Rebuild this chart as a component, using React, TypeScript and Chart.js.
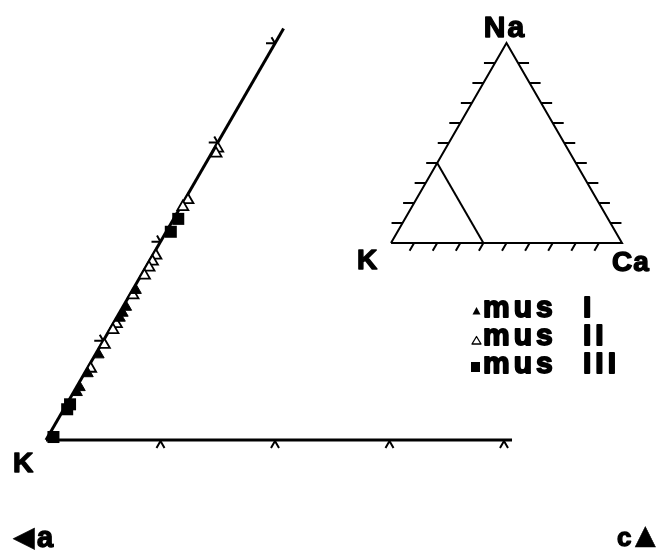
import React, { useEffect, useRef } from "react";
import { Chart, registerables } from "chart.js";

Chart.register(...registerables);

// Interlayer composition of muscovite (mol %): Na and Ca, K is the balance.
const musI_Na = [15.1, 13.4, 12.8, 12.3, 8.6, 6.7, 5.3, 4.8];
const musI_Ca = [0.3, 0.3, 0.3, 0.3, 0.3, 0.3, 0.3, 0.3];

const musII_Na = [29.4, 28.9, 24.2, 23.5, 18.6, 18.0, 17.4, 16.6, 14.6, 11.7, 11.1, 9.6, 7.2];
const musII_Ca = [0.3, 0.4, 0.3, 0.2, 0.3, 0.3, 0.3, 0.3, 0.3, 0.3, 0.3, 0.3, 0.3];

const musIII_Na = [22.3, 21.0, 3.6, 3.1, 0.3];
const musIII_Ca = [0.4, 0.4, 0.3, 0.3, 0.5];

// Axis extents and tick marks of the enlarged K corner (%)
const naAxisEnd = 41.5;
const caAxisEnd = 40.7;
const cornerTicks = [10, 20, 30, 40];

// Full ternary key: tick marks every 10 %, enlarged window 40 %
const keyTicks = [10, 20, 30, 40, 50, 60, 70, 80, 90];
const keyWindow = 40;

const legendNames = ["mus I", "mus II", "mus III"];

// Layout: pixels per % in the corner plot, its K origin, and the key triangle
const PX = 11.45;
const ORIGIN = { x: 46, y: 440 };
const KEY_ORIGIN = { x: 391, y: 243 };
const KEY_SIDE = 231;

const W = 672;
const H = 555;
const H3 = Math.sqrt(3) / 2;

const tern = (na: number, ca: number) => ({ x: ca + na / 2, y: na * H3 });

const keyK = KEY_SIDE / 100 / PX;
const keyO = { x: (KEY_ORIGIN.x - ORIGIN.x) / PX, y: (ORIGIN.y - KEY_ORIGIN.y) / PX };
const keyTern = (na: number, ca: number) => ({
  x: keyO.x + keyK * (ca + na / 2),
  y: keyO.y + keyK * na * H3,
});

const FONT = '"Liberation Sans", Arial, Helvetica, sans-serif';

export default function App() {
  const ref = useRef<HTMLCanvasElement | null>(null);

  useEffect(() => {
    if (!ref.current) return;

    const toPts = (na: number[], ca: number[]) => na.map((v, i) => tern(v, ca[i]));

    const tickPlugin = {
      id: "ternaryTicks",
      beforeDatasetsDraw(chart: any) {
        const { ctx } = chart;
        const sx = chart.scales.x;
        const sy = chart.scales.y;
        const px = (p: { x: number; y: number }) => ({ x: sx.getPixelForValue(p.x), y: sy.getPixelForValue(p.y) });
        const stroke = (p: { x: number; y: number }, deg: number, len: number) => {
          const a = (deg * Math.PI) / 180;
          ctx.moveTo(p.x, p.y);
          ctx.lineTo(p.x + len * Math.cos(a), p.y - len * Math.sin(a));
        };
        ctx.save();
        ctx.strokeStyle = "#000";
        ctx.lineWidth = 2;
        ctx.lineCap = "butt";
        ctx.beginPath();
        cornerTicks.forEach((t) => {
          const pn = px(tern(t, 0));
          stroke(pn, 120, 7);
          stroke(pn, 180, 9);
          const pc = px(tern(0, t));
          stroke({ x: pc.x, y: pc.y + 1 }, 240, 8);
          stroke({ x: pc.x, y: pc.y + 1 }, 300, 8);
        });
        keyTicks.forEach((t) => {
          stroke(px(keyTern(t, 0)), 180, 11);
          stroke(px(keyTern(t, 100 - t)), 0, 11);
          stroke(px(keyTern(0, t)), 240, 9);
        });
        ctx.stroke();
        ctx.restore();
      },
      afterDraw(chart: any) {
        const { ctx } = chart;
        ctx.save();
        ctx.fillStyle = "#000";
        ctx.strokeStyle = "#000";
        ctx.lineJoin = "round";
        ctx.textBaseline = "alphabetic";
        const text = (
          s: string,
          x: number,
          y: number,
          size: number,
          spacing = 0,
          align: CanvasTextAlign = "left",
          weight = 1.4
        ) => {
          ctx.font = `bold ${size}px ${FONT}`;
          (ctx as any).letterSpacing = `${spacing}px`;
          ctx.textAlign = align;
          ctx.fillText(s, x, y);
          ctx.lineWidth = weight;
          ctx.strokeText(s, x, y);
        };
        // key labels
        text("Na", 505, 37, 30, 2, "center");
        text("K", 357, 269, 28);
        text("Ca", 612, 271, 28, 1);
        // corner plot label
        text("K", 13, 472, 28);
        // legend
        const rows = [317, 345, 373];
        rows.forEach((y, i) => {
          (ctx as any).wordSpacing = "14px";
          text(legendNames[i], 483, y, 30, 4, "left", 1.8);
          (ctx as any).wordSpacing = "0px";
        });
        // legend markers
        ctx.lineWidth = 1.3;
        ctx.beginPath();
        ctx.moveTo(476.5, 307);
        ctx.lineTo(480.5, 314.5);
        ctx.lineTo(472.5, 314.5);
        ctx.closePath();
        ctx.fill();
        ctx.beginPath();
        ctx.moveTo(476.5, 336.5);
        ctx.lineTo(481, 344);
        ctx.lineTo(472, 344);
        ctx.closePath();
        ctx.stroke();
        ctx.fillRect(471, 362, 9, 10);
        // bottom direction labels
        text("◄", 6, 549, 36, 0, "left", 0.5);
        text("a", 37, 547, 29);
        text("c", 617, 546, 26);
        text("▲", 628, 547, 35, 0, "left", 0.5);
        ctx.restore();
      },
    };

    const chart = new Chart(ref.current, {
      type: "scatter",
      data: {
        datasets: [
          {
            label: legendNames[2],
            data: toPts(musIII_Na, musIII_Ca),
            pointStyle: "rect",
            pointRadius: 8.5,
            backgroundColor: "#000",
            borderColor: "#000",
            borderWidth: 0,
          },
          {
            label: legendNames[0],
            data: toPts(musI_Na, musI_Ca),
            pointStyle: "triangle",
            pointRadius: 6.3,
            backgroundColor: "#000",
            borderColor: "#000",
            borderWidth: 1,
          },
          {
            label: legendNames[1],
            data: toPts(musII_Na, musII_Ca),
            pointStyle: "triangle",
            pointRadius: 6.3,
            backgroundColor: "#fff",
            borderColor: "#000",
            borderWidth: 1.8,
          },
          {
            label: "K–Na",
            data: [tern(0, 0), tern(naAxisEnd, 0)],
            showLine: true,
            borderColor: "#000",
            borderWidth: 3,
            pointRadius: 0,
          },
          {
            label: "K–Ca",
            data: [tern(0, 0), tern(0, caAxisEnd)],
            showLine: true,
            borderColor: "#000",
            borderWidth: 3,
            pointRadius: 0,
          },
          {
            label: "key",
            data: [keyTern(0, 0), keyTern(100, 0), keyTern(0, 100), keyTern(0, 0)],
            showLine: true,
            borderColor: "#000",
            borderWidth: 2,
            pointRadius: 0,
          },
          {
            label: "window",
            data: [keyTern(keyWindow, 0), keyTern(0, keyWindow)],
            showLine: true,
            borderColor: "#000",
            borderWidth: 2,
            pointRadius: 0,
          },
        ],
      },
      options: {
        responsive: false,
        animation: false,
        layout: { padding: 0, autoPadding: false },
        plugins: { legend: { display: false }, tooltip: { enabled: false } },
        scales: {
          x: { type: "linear", display: false, min: -ORIGIN.x / PX, max: (W - ORIGIN.x) / PX },
          y: { type: "linear", display: false, min: -(H - ORIGIN.y) / PX, max: ORIGIN.y / PX },
        },
      },
      plugins: [tickPlugin],
    });

    return () => chart.destroy();
  }, []);

  return (
    <div style={{ position: "fixed", left: 0, top: 0, width: W, height: H, background: "#fff" }}>
      <canvas ref={ref} width={W} height={H} style={{ display: "block" }} />
    </div>
  );
}
